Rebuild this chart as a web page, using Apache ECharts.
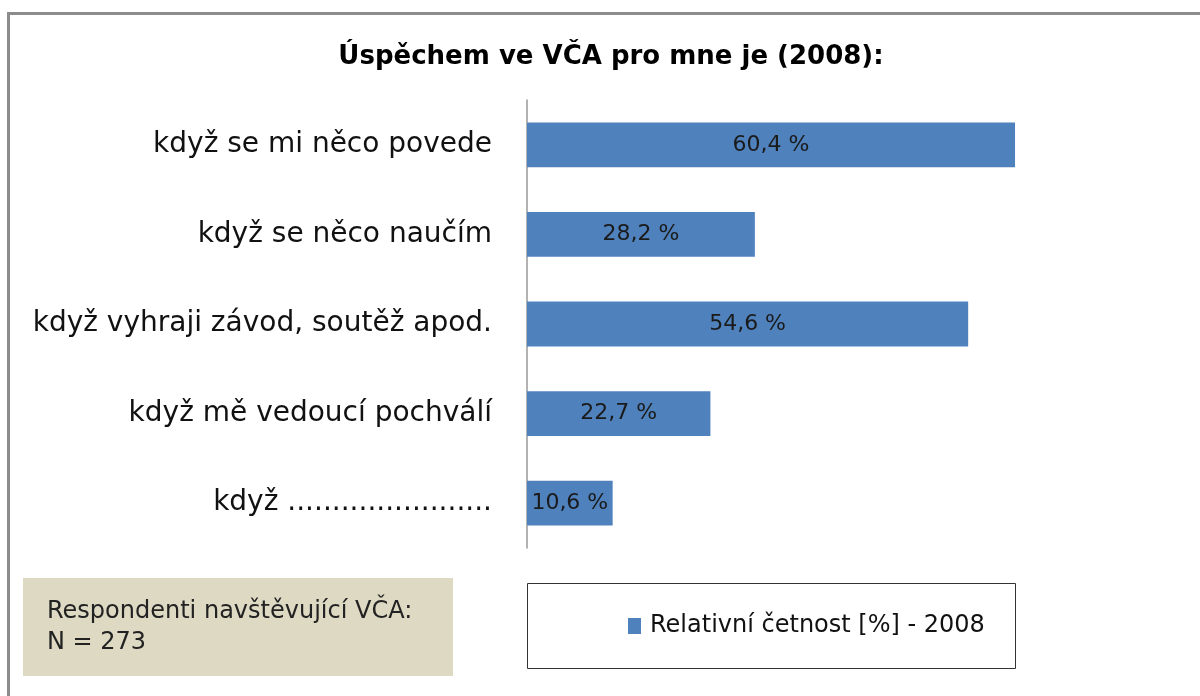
<!DOCTYPE html>
<html>
<head>
<meta charset="utf-8">
<script src="https://cdn.jsdelivr.net/npm/echarts@6/dist/echarts.min.js"></script>
<style>
html,body{margin:0;padding:0;background:#fff;}
#chart{width:1200px;height:696px;}
</style>
</head>
<body>
<div id="chart"></div>
<script>
const titleText = 'Úspěchem ve VČA pro mne je (2008):';
const categories = [
  'když se mi něco povede',
  'když se něco naučím',
  'když vyhraji závod, soutěž apod.',
  'když mě vedoucí pochválí',
  'když .......................'
];
const seriesName = 'Relativní četnost [%] - 2008';
const values = [60.4, 28.2, 54.6, 22.7, 10.6];
const noteLines = ['Respondenti navštěvující VČA:', 'N = 273'];

const FONT = '"DejaVu Sans", "Open Sans", sans-serif';
const chart = echarts.init(document.getElementById('chart'), null, {renderer: 'canvas'});
chart.setOption({
  backgroundColor: '#ffffff',
  animation: false,
  title: {
    text: titleText,
    left: 606, textAlign: 'center', top: 39,
    textStyle: {fontFamily: FONT, fontSize: 26, fontWeight: 'bold', color: '#000'}
  },
  grid: {left: 527, top: 100, width: 565.6, height: 448, containLabel: false},
  xAxis: {
    type: 'value', min: 0, max: 70, show: false
  },
  yAxis: {
    type: 'category', data: categories, inverse: true,
    axisLine: {show: true, lineStyle: {color: '#999', width: 1.5}},
    axisTick: {show: false},
    axisLabel: {fontFamily: FONT, fontSize: 28, color: '#111', margin: 35}
  },
  legend: {
    data: [seriesName],
    left: 628, top: 614,
    itemWidth: 13, itemHeight: 16, itemGap: 0,
    icon: 'rect',
    textStyle: {fontFamily: FONT, fontSize: 24, color: '#111', padding: [0,0,0,4]},
    padding: 0
  },
  series: [{
    name: seriesName, type: 'bar', data: values,
    barCategoryGap: '50%',
    itemStyle: {color: '#4F81BD'},
    label: {
      show: true, position: 'inside',
      formatter: p => p.value.toFixed(1).replace('.', ',') + ' %',
      fontFamily: FONT, fontSize: 22, color: '#1a1a1a'
    }
  }],
  graphic: [
    {type: 'rect', shape: {x: 8.5, y: 13.5, width: 1300, height: 800}, style: {fill: null, stroke: '#8c8c8c', lineWidth: 3}, silent: true},
    {type: 'rect', shape: {x: 23, y: 578, width: 430, height: 98}, style: {fill: '#DDD9C3'}, silent: true},
    {type: 'text', x: 47, y: 596, style: {text: noteLines.join('\n'), font: '24px ' + FONT, fill: '#222', lineHeight: 31}, silent: true},
    {type: 'rect', shape: {x: 527.5, y: 583.5, width: 488, height: 85}, style: {fill: null, stroke: '#333', lineWidth: 1}, silent: true}
  ]
});
</script>
</body>
</html>
